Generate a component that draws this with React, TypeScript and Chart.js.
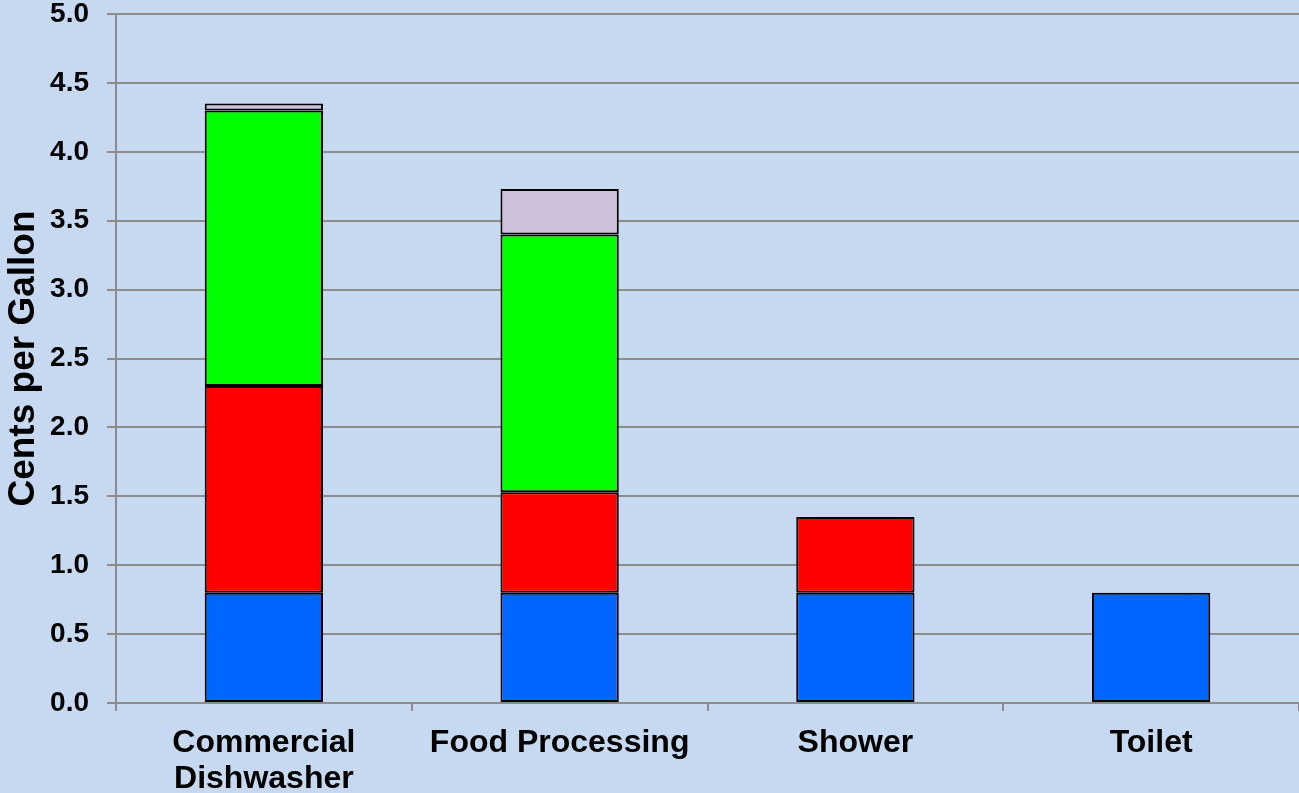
import React, { useEffect, useRef } from "react";
import { Chart, registerables } from "chart.js";

Chart.register(...registerables);

const categories: (string | string[])[] = [["Commercial", "Dishwasher"], "Food Processing", "Shower", "Toilet"];
const blueValues = [0.8, 0.8, 0.8, 0.8];
const redValues = [1.5, 0.73, 0.55, 0];
const greenValues = [2.0, 1.87, 0, 0];
const lavenderValues = [0.05, 0.33, 0, 0];
const yTicks = [0, 0.5, 1, 1.5, 2, 2.5, 3, 3.5, 4, 4.5, 5];

const BG = "#C6D9F1";
const GRID = "#8C8C8C";
const FONT = "Arial, 'Liberation Sans', sans-serif";

export default function App() {
  const ref = useRef<HTMLCanvasElement | null>(null);
  useEffect(() => {
    document.body.style.margin = "0";
    const ctx = ref.current!;
    const mk = (label: string, data: number[], color: string) => ({
      label,
      data,
      backgroundColor: color,
      borderColor: "#000000",
      borderWidth: 2,
      borderSkipped: false as const,
      barPercentage: 0.8,
      categoryPercentage: 0.5,
    });
    const chart = new Chart(ctx, {
      type: "bar",
      data: {
        labels: categories,
        datasets: [
          mk("Blue", blueValues, "#0066FF"),
          mk("Red", redValues, "#FF0000"),
          mk("Green", greenValues, "#00FF00"),
          mk("Lavender", lavenderValues, "#CCC0DA"),
        ],
      },
      options: {
        responsive: false,
        animation: false,
        layout: { padding: { top: 14, right: 0, left: 0, bottom: 0 } },
        plugins: { legend: { display: false }, tooltip: { enabled: false } },
        scales: {
          x: {
            stacked: true,
            grid: {
              drawOnChartArea: false,
              drawTicks: true,
              tickLength: 8,
              color: GRID,
              lineWidth: 2,
              offset: true,
            },
            border: { display: true, color: GRID, width: 2 },
            ticks: {
              color: "#000000",
              font: { family: FONT, size: 32, weight: "bold", lineHeight: 1.1 },
              padding: 15,
              maxRotation: 0,
              autoSkip: false,
            },
            afterFit: (s: any) => {
              s.height = 90;
              s.paddingLeft = 0;
              s.paddingRight = 0;
            },
          },
          y: {
            stacked: true,
            min: 0,
            max: 5,
            afterBuildTicks: (s: any) => {
              s.ticks = yTicks.map((v) => ({ value: v }));
            },
            grid: {
              color: GRID,
              lineWidth: 2,
              tickLength: 9,
              drawTicks: true,
            },
            border: { display: true, color: GRID, width: 2 },
            ticks: {
              color: "#000000",
              font: { family: FONT, size: 28, weight: "bold" },
              padding: 18,
              callback: (v: any) => Number(v).toFixed(1),
            },
            title: {
              display: true,
              text: "Cents per Gallon",
              color: "#000000",
              font: { family: FONT, size: 37, weight: "bold" },
              padding: { top: 2, bottom: 0 },
            },
            afterFit: (s: any) => {
              s.width = 116;
              s.paddingTop = 0;
              s.paddingBottom = 0;
            },
          },
        },
      },
    });
    return () => chart.destroy();
  }, []);
  return (
    <div style={{ width: 1299, height: 793, background: BG }}>
      <canvas ref={ref} width={1299} height={793} style={{ display: "block" }} />
    </div>
  );
}
